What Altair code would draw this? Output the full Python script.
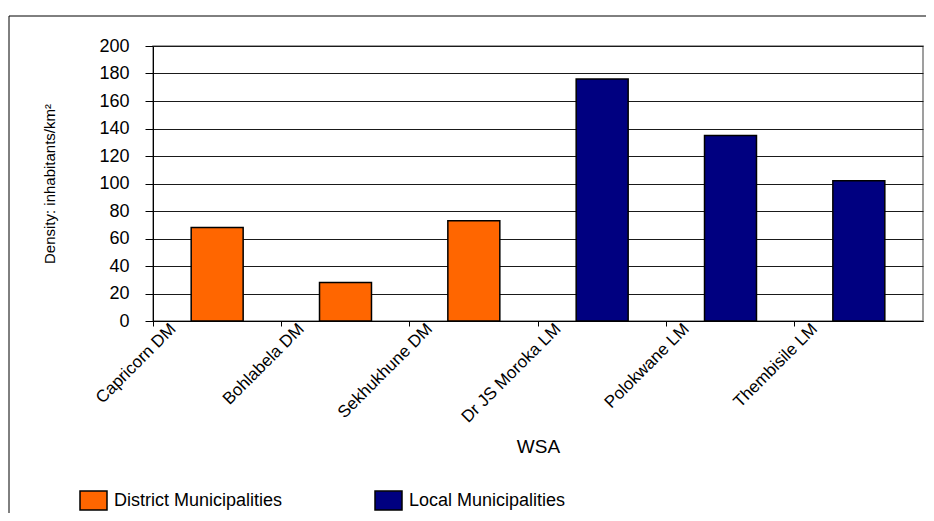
import altair as alt
import pandas as pd

categories = ["Capricorn DM", "Bohlabela DM", "Sekhukhune DM",
              "Dr JS Moroka LM", "Polokwane LM", "Thembisile LM"]
groups = ["District Municipalities"] * 3 + ["Local Municipalities"] * 3
density = [68, 28, 73, 176, 135, 102]
series_names = ["District Municipalities", "Local Municipalities"]
series_colors = ["#FF6600", "#000080"]
y_ticks = [0, 20, 40, 60, 80, 100, 120, 140, 160, 180, 200]

df = pd.DataFrame({"WSA": categories, "Group": groups, "Density": density})

FONT = "Liberation Sans"

bars = alt.Chart(df).mark_bar(
    width=alt.RelativeBandSize(0.405), stroke="black", strokeWidth=1.5, opacity=1
).encode(
    x=alt.X(
        "WSA:N", sort=categories,
        scale=alt.Scale(paddingInner=0, paddingOuter=0),
        axis=alt.Axis(
            title="WSA", bandPosition=0, labelAngle=-45, labelAlign="right",
            labelBaseline="middle", labelOffset=-44, labelPadding=0, tickSize=5,
            labelFontSize=17, labelFont=FONT, labelColor="black",
            titleFont=FONT, titleFontSize=19, titleFontWeight="normal",
            titleColor="black", titleX=385, titleY=125, titleAlign="center",
            titleBaseline="middle", domainColor="black", tickColor="black",
            grid=False, labelOverlap=False,
        ),
    ),
    y=alt.Y(
        "Density:Q",
        scale=alt.Scale(domain=[0, 200], nice=False),
        axis=alt.Axis(
            title="Density: inhabitants/km²", values=y_ticks, format="d",
            tickSize=8, labelPadding=16, labelFontSize=18, labelFont=FONT,
            labelColor="black", domainColor="black", tickColor="black",
            gridColor="#1a1a1a", gridWidth=1, grid=True,
            titleFont=FONT, titleFontSize=15, titleFontWeight="normal",
            titleColor="black", titleX=-104, titleY=137.5, titleAngle=-90,
            titleAlign="center", titleBaseline="middle",
        ),
    ),
    color=alt.Color(
        "Group:N",
        scale=alt.Scale(domain=series_names, range=series_colors),
        legend=alt.Legend(
            title=None, orient="none", legendX=-74, legendY=440,
            direction="horizontal", columns=2, columnPadding=89, padding=0,
            symbolType="M-1,-0.7L1,-0.7L1,0.7L-1,0.7Z", symbolSize=729,
            symbolStrokeColor="black", symbolStrokeWidth=1.5, symbolOpacity=1,
            labelFont=FONT, labelFontSize=18, labelColor="black", labelOffset=6,
            labelLimit=400,
        ),
    ),
)

frame = alt.Chart(alt.Data(values=[{"a": 1}])).mark_rect(
    fill="white", fillOpacity=0, stroke="black", strokeWidth=1
).encode(
    x=alt.value(-144), x2=alt.value(900), y=alt.value(-30), y2=alt.value(600)
)

chart = alt.layer(frame, bars).properties(
    width=770, height=275,
    autosize=alt.AutoSizeParams(type="none"),
    padding={"left": 145, "top": 38, "right": 3, "bottom": 192},
).configure_view(stroke="#808080", strokeWidth=1.5)

chart.save("out.html", embed_options={"renderer": "svg", "actions": False})
